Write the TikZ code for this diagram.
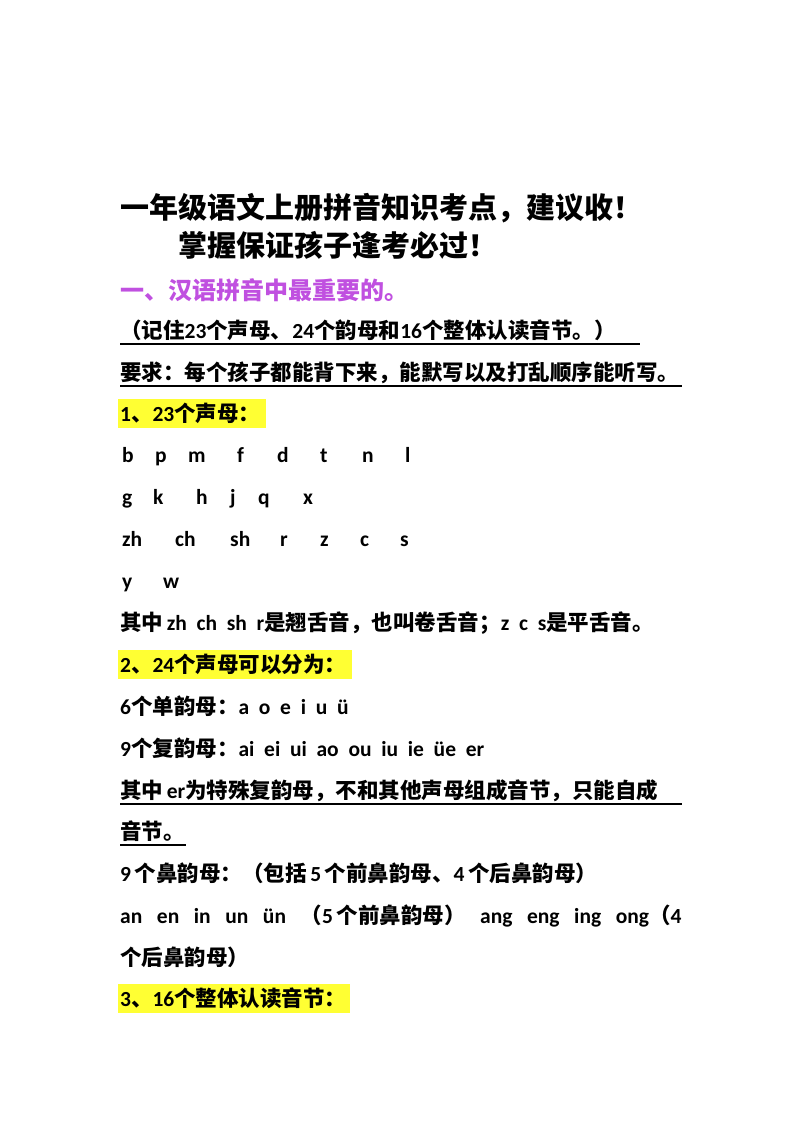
\documentclass[tikz,border=0pt]{standalone}
\usepackage{fontspec}
\setmainfont{Carlito}
\newfontfamily\zhf{Noto Sans CJK SC}
\newcommand\zh[1]{{\zhf #1}}
\definecolor{hl}{HTML}{FFFF33}
\definecolor{pur}{HTML}{C050E0}
\begin{document}
\begin{tikzpicture}[x=1pt,y=-1pt,
  txt/.style={anchor=base west,inner sep=0pt,font=\fontsize{21.5}{26}\selectfont\bfseries},
  ttl/.style={anchor=base west,inner sep=0pt,font=\fontsize{29}{34}\selectfont\bfseries},
  ul/.style={line width=1.3pt}]
\useasboundingbox (0,0) rectangle (800,1132);
\fill[white] (0,0) rectangle (800,1132);
\fill[hl] (118,399) rectangle (266,428);
\fill[hl] (118,650) rectangle (352,679);
\fill[hl] (118,984) rectangle (350,1013);
\node[ttl] (t1) at (120,218) {\zh{一年级语文上册拼音知识考点，建议收！}};
\node[ttl] (t2) at (178,256) {\zh{掌握保证孩子逢考必过！}};
\node[txt,font=\fontsize{24}{28}\selectfont\bfseries,text=pur] (h1) at (120,299) {\zh{一、汉语拼音中最重要的。}};
\node[txt] (l1) at (120,338) {\zh{（记住}23\zh{个声母、}24\zh{个韵母和}16\zh{个整体认读音节。）}};
\draw[ul] (120,344) -- (640,344);
\node[txt] (l2) at (120,380) {\zh{要求：每个孩子都能背下来，能默写以及打乱顺序能听写。}};
\draw[ul] (120,386) -- (682,386);
\node[txt] (l3) at (120,421) {1\zh{、}23\zh{个声母：}};
\foreach \x/\s in {122/b,155/p,188/m,237/f,277/d,320/t,362/n,405/l}
  \node[txt] at (\x,462) {\s};
\foreach \x/\s in {122/g,153/k,196/h,230/j,258/q,303/x}
  \node[txt] at (\x,504) {\s};
\foreach \x/\s in {122/zh,175/ch,230/sh,280/r,320/z,360/c,400/s}
  \node[txt] at (\x,546) {\s};
\foreach \x/\s in {122/y,163/w}
  \node[txt] at (\x,588) {\s};
\node[txt] (l4) at (120,630) {\zh{其中}\,zh~~ch~~sh~~r\zh{是翘舌音，也叫卷舌音；}z~~c~~s\zh{是平舌音。}};
\node[txt] (l5) at (120,672) {2\zh{、}24\zh{个声母可以分为：}};
\node[txt] (l6) at (120,714) {6\zh{个单韵母：}a~~o~~e~~i~~u~~ü};
\node[txt] (l7) at (120,756) {9\zh{个复韵母：}ai~~ei~~ui~~ao~~ou~~iu~~ie~~üe~~er};
\node[txt] (l8) at (120,798) {\zh{其中}\,er\zh{为特殊复韵母，不和其他声母组成音节，只能自成}};
\draw[ul] (120,804) -- (682,804);
\node[txt] (l9) at (120,839) {\zh{音节。}};
\draw[ul] (120,845) -- (186,845);
\node[txt] (l10) at (120,881) {9\,\zh{个鼻韵母：（包括}\,5\,\zh{个前鼻韵母、}4\,\zh{个后鼻韵母）}};
\node[txt] (l11) at (120,923) {an~~~en~~~in~~~un~~~ün~~~\zh{（}5\,\zh{个前鼻韵母）}~~~ang~~~eng~~~ing~~~ong\zh{（}4};
\node[txt] (l12) at (120,965) {\zh{个后鼻韵母）}};
\node[txt] (l13) at (120,1006) {3\zh{、}16\zh{个整体认读音节：}};
\end{tikzpicture}
\end{document}
